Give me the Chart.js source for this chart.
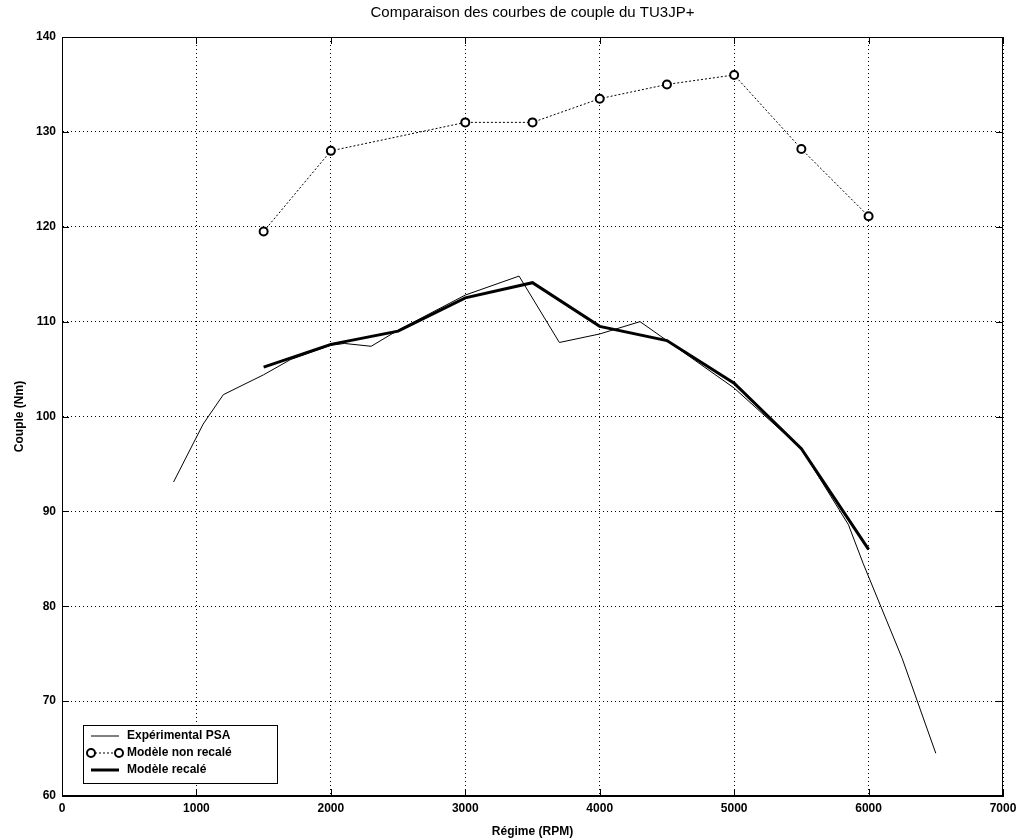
<!DOCTYPE html>
<html>
<head>
<meta charset="utf-8">
<script src="https://cdn.jsdelivr.net/npm/chart.js@4/dist/chart.umd.min.js"></script>
<style>
    html, body { margin: 0; padding: 0; background: #fff; }
    #wrap { width: 1024px; height: 839px; }
</style>
</head>
<body>
<div id="wrap"><canvas id="chart" width="1024" height="839"></canvas></div>
<script>
// Expérimental PSA (thin line)
const expRpm = [830, 1050, 1200, 1500, 1700, 2000, 2100, 2300, 2500, 3000, 3400, 3700, 4000, 4300, 4500, 5000, 5500, 5850, 5960, 6250, 6500];
const expCouple = [93.1, 99.2, 102.3, 104.4, 106.0, 107.5, 107.7, 107.4, 109.1, 112.8, 114.8, 107.8, 108.7, 110.0, 108.0, 103.0, 96.6, 88.6, 84.5, 74.5, 64.5];

// Modèle non recalé (circles, dotted)
const nonRecRpm = [1500, 2000, 3000, 3500, 4000, 4500, 5000, 5500, 6000];
const nonRecCouple = [119.5, 128.0, 131.0, 131.0, 133.5, 135.0, 136.0, 128.2, 121.1];

// Modèle recalé (thick line)
const recRpm = [1500, 2000, 2500, 3000, 3500, 4000, 4500, 5000, 5500, 6000];
const recCouple = [105.2, 107.6, 109.0, 112.5, 114.1, 109.5, 108.0, 103.5, 96.6, 86.0];

const xTicks = [0, 1000, 2000, 3000, 4000, 5000, 6000, 7000];
const yTicks = [60, 70, 80, 90, 100, 110, 120, 130, 140];

const toPoints = (xs, ys) => xs.map((x, i) => ({ x, y: ys[i] }));

const FONT = "'Liberation Sans', Arial, sans-serif";

// Box around the plot with small inward ticks (Matlab style)
const frame = {
    id: 'frame',
    afterDatasetsDraw(chart) {
        const { ctx, chartArea: a, scales } = chart;
        ctx.save();
        ctx.strokeStyle = '#000';
        ctx.lineWidth = 1;
        ctx.strokeRect(a.left + 0.5, a.top + 0.5, a.right - a.left - 1, a.bottom - a.top - 1);
        ctx.beginPath();
        xTicks.forEach(v => {
            const px = Math.round(scales.x.getPixelForValue(v)) + 0.5;
            ctx.moveTo(px, a.bottom); ctx.lineTo(px, a.bottom - 7);
            ctx.moveTo(px, a.top); ctx.lineTo(px, a.top + 7);
        });
        yTicks.forEach(v => {
            const py = Math.round(scales.y.getPixelForValue(v)) + 0.5;
            ctx.moveTo(a.left, py); ctx.lineTo(a.left + 7, py);
            ctx.moveTo(a.right, py); ctx.lineTo(a.right - 7, py);
        });
        ctx.stroke();
        ctx.restore();
    }
};

// Legend box in the lower-left corner of the plot
const boxLegend = {
    id: 'boxLegend',
    afterDraw(chart) {
        const { ctx, chartArea: a } = chart;
        const x0 = a.left + 21, y0 = a.bottom - 71, w = 194, h = 58;
        ctx.save();
        ctx.fillStyle = '#fff';
        ctx.fillRect(x0, y0, w, h);
        ctx.strokeStyle = '#000';
        ctx.lineWidth = 1;
        ctx.strokeRect(x0 + 0.5, y0 + 0.5, w, h);
        ctx.font = 'bold 12px ' + FONT;
        ctx.textBaseline = 'middle';
        chart.data.datasets.forEach((ds, i) => {
            const y = y0 + 11 + i * 17;
            ctx.strokeStyle = '#000';
            ctx.lineWidth = ds.borderWidth;
            ctx.setLineDash(ds.borderDash || []);
            ctx.beginPath();
            ctx.moveTo(x0 + 8, y);
            ctx.lineTo(x0 + 36, y);
            ctx.stroke();
            ctx.setLineDash([]);
            if (ds.pointRadius) {
                [x0 + 8, x0 + 36].forEach(px => {
                    ctx.beginPath();
                    ctx.arc(px, y, ds.pointRadius, 0, Math.PI * 2);
                    ctx.fillStyle = '#fff';
                    ctx.fill();
                    ctx.lineWidth = ds.pointBorderWidth;
                    ctx.stroke();
                });
            }
            ctx.fillStyle = '#000';
            ctx.fillText(ds.label, x0 + 44, y);
        });
        ctx.restore();
    }
};

new Chart(document.getElementById('chart'), {
    type: 'scatter',
    data: {
        datasets: [
            {
                label: 'Expérimental PSA',
                data: toPoints(expRpm, expCouple),
                showLine: true,
                borderColor: '#000',
                borderWidth: 1,
                pointRadius: 0,
                fill: false
            },
            {
                label: 'Modèle non recalé',
                data: toPoints(nonRecRpm, nonRecCouple),
                showLine: true,
                borderColor: '#000',
                borderWidth: 1,
                borderDash: [2, 2],
                pointRadius: 4,
                pointBorderWidth: 2,
                pointBackgroundColor: '#fff',
                pointBorderColor: '#000',
                fill: false
            },
            {
                label: 'Modèle recalé',
                data: toPoints(recRpm, recCouple),
                showLine: true,
                borderColor: '#000',
                borderWidth: 3,
                pointRadius: 0,
                fill: false
            }
        ]
    },
    options: {
        responsive: false,
        animation: false,
        layout: { padding: { top: 0, right: 21, bottom: 0, left: 0 } },
        plugins: {
            legend: { display: false },
            tooltip: { enabled: false },
            title: {
                display: true,
                text: 'Comparaison des courbes de couple du TU3JP+',
                color: '#000',
                fullSize: false,
                font: { family: FONT, size: 15, weight: 'normal' },
                padding: { top: 4, bottom: 15 }
            }
        },
        scales: {
            x: {
                type: 'linear',
                min: 0,
                max: 7000,
                afterBuildTicks: s => { s.ticks = xTicks.map(v => ({ value: v })); },
                afterFit: s => { s.height = 43; },
                grid: { color: '#000', lineWidth: 1, drawTicks: false },
                border: { display: true, color: '#000', dash: [1, 3] },
                ticks: {
                    color: '#000',
                    padding: 5,
                    font: { family: FONT, size: 12, weight: 'bold' },
                    callback: v => String(v)
                },
                title: {
                    display: true,
                    text: 'Régime (RPM)',
                    color: '#000',
                    font: { family: FONT, size: 12, weight: 'bold' },
                    padding: { top: 2, bottom: 0 }
                }
            },
            y: {
                type: 'linear',
                min: 60,
                max: 140,
                afterBuildTicks: s => { s.ticks = yTicks.map(v => ({ value: v })); },
                afterFit: s => { s.width = 62; },
                grid: { color: '#000', lineWidth: 1, drawTicks: false },
                border: { display: true, color: '#000', dash: [1, 3] },
                ticks: {
                    color: '#000',
                    padding: 6,
                    font: { family: FONT, size: 12, weight: 'bold' },
                    callback: v => String(v)
                },
                title: {
                    display: true,
                    text: 'Couple (Nm)',
                    color: '#000',
                    font: { family: FONT, size: 12, weight: 'bold' },
                    padding: { top: 12, bottom: 0 }
                }
            }
        }
    },
    plugins: [frame, boxLegend]
});
</script>
</body>
</html>
